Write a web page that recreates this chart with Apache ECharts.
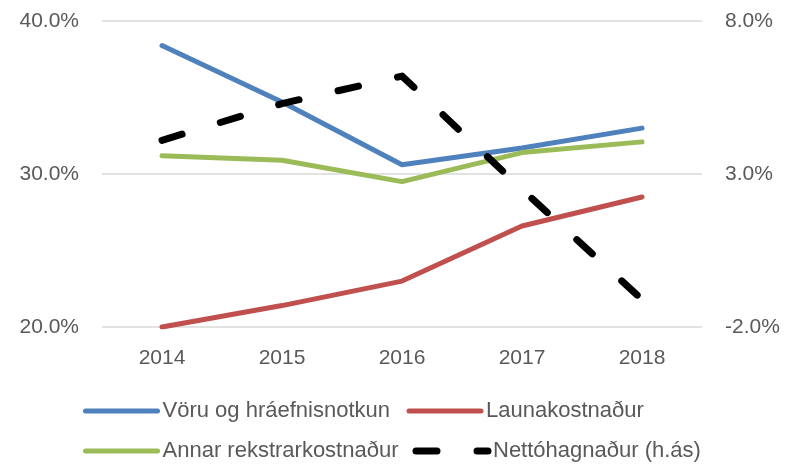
<!DOCTYPE html>
<html>
<head>
<meta charset="utf-8">
<script src="https://cdn.jsdelivr.net/npm/echarts@6/dist/echarts.min.js"></script>
<style>
  html, body { margin: 0; padding: 0; background: #fff; }
  #chart { width: 792px; height: 466px; }
</style>
</head>
<body>
<div id="chart"></div>
<script>
const years = ['2014', '2015', '2016', '2017', '2018']
const voruNotkun = [38.4, 34.7, 30.6, 31.7, 33.0]
const launakostnadur = [20.0, 21.4, 23.0, 26.6, 28.5]
const annarKostnadur = [31.2, 30.9, 29.5, 31.4, 32.1]
const nettohagnadur = [4.1, 5.3, 6.2, 2.5, -1.1]

const FONT = '"Liberation Sans", Arial, sans-serif'
const TEXT_COLOR = '#595959'

const chart = echarts.init(document.getElementById('chart'), null, { renderer: 'canvas' })

const pct = (v) => v.toFixed(1) + '%'

const legendBase = {
  left: 83,
  padding: 0,
  itemWidth: 72,
  itemHeight: 14,
  itemGap: 14,
  itemStyle: { opacity: 0 },
  lineStyle: { width: 'inherit', cap: 'round' },
  textStyle: { fontFamily: FONT, fontSize: 22, color: TEXT_COLOR, width: 230, lineHeight: 26 }
}

const option = {
  animation: false,
  grid: { left: 102, right: 90, top: 21, bottom: 139 },
  legend: [
    { ...legendBase, top: 398, data: ['Vöru og hráefnisnotkun', 'Launakostnaður'] },
    { ...legendBase, top: 438, data: ['Annar rekstrarkostnaður', 'Nettóhagnaður (h.ás)'] }
  ],
  xAxis: {
    type: 'category',
    data: years,
    boundaryGap: true,
    axisLine: { show: false },
    axisTick: { show: false },
    axisLabel: { margin: 21, fontFamily: FONT, fontSize: 21, color: TEXT_COLOR }
  },
  yAxis: [
    {
      type: 'value',
      min: 20,
      max: 40,
      interval: 10,
      axisLine: { show: false },
      axisTick: { show: false },
      splitLine: { lineStyle: { color: '#d9d9d9', width: 1.5 } },
      axisLabel: { margin: 23, fontFamily: FONT, fontSize: 21, color: TEXT_COLOR, formatter: pct }
    },
    {
      type: 'value',
      min: -2,
      max: 8,
      interval: 5,
      axisLine: { show: false },
      axisTick: { show: false },
      splitLine: { show: false },
      axisLabel: { margin: 23, fontFamily: FONT, fontSize: 21, color: TEXT_COLOR, formatter: pct }
    }
  ],
  series: [
    {
      name: 'Vöru og hráefnisnotkun',
      type: 'line',
      data: voruNotkun,
      symbol: 'none',
      lineStyle: { color: '#4f81bd', width: 5, cap: 'round', join: 'round' },
      itemStyle: { color: '#4f81bd' }
    },
    {
      name: 'Launakostnaður',
      type: 'line',
      data: launakostnadur,
      symbol: 'none',
      lineStyle: { color: '#c0504d', width: 5, cap: 'round', join: 'round' },
      itemStyle: { color: '#c0504d' }
    },
    {
      name: 'Annar rekstrarkostnaður',
      type: 'line',
      data: annarKostnadur,
      symbol: 'none',
      lineStyle: { color: '#9bbb59', width: 5, cap: 'round', join: 'round' },
      itemStyle: { color: '#9bbb59' }
    },
    {
      name: 'Nettóhagnaður (h.ás)',
      type: 'line',
      yAxisIndex: 1,
      data: nettohagnadur,
      symbol: 'none',
      lineStyle: { color: '#000000', width: 7, type: [21, 40], cap: 'round', join: 'round' },
      itemStyle: { color: '#000000' }
    }
  ]
}

chart.setOption(option)
</script>
</body>
</html>
